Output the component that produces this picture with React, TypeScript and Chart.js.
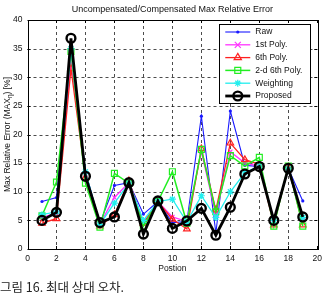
import { useEffect, useRef } from "react";
import { Chart, registerables } from "chart.js";

Chart.register(...registerables);

// Measurement positions along the sensor
const positions = [1, 2, 3, 4, 5, 6, 7, 8, 9, 10, 11, 12, 13, 14, 15, 16, 17, 18, 19];

// Max relative error [%] per compensation method
const rawErr = [8.3, 9.0, 35.5, 13.5, 4.5, 11.1, 11.6, 6.1, 8.3, 4.6, 4.8, 23.2, 2.8, 24.1, 14.6, 14.4, 5.0, 14.1, 8.4];
const poly1Err = [5.5, 6.3, 33.0, 13.0, 4.3, 9.0, 11.6, 4.5, 8.3, 5.6, 4.8, 17.0, 6.0, 17.0, 15.0, 14.5, 5.0, 14.0, 5.0];
const poly6Err = [4.5, 5.3, 31.5, 12.5, 4.0, 6.0, 11.9, 4.5, 8.3, 5.2, 3.5, 17.5, 6.8, 18.5, 15.6, 14.8, 4.2, 14.3, 4.2];
const poly2d6Err = [5.8, 11.7, 34.5, 11.5, 3.8, 13.2, 11.5, 4.0, 8.3, 13.5, 4.5, 17.4, 6.5, 16.3, 14.5, 16.0, 4.0, 14.5, 4.0];
const weightingErr = [6.0, 6.5, 35.0, 13.5, 4.3, 8.0, 11.5, 5.0, 8.3, 8.7, 4.7, 9.3, 5.5, 10.0, 13.3, 14.5, 5.0, 14.0, 5.5];
const proposedErr = [5.0, 6.4, 36.8, 12.7, 4.6, 5.6, 11.6, 2.6, 8.4, 3.6, 4.9, 7.1, 2.4, 7.3, 13.1, 14.4, 5.0, 14.1, 5.6];

const legendNames = ["Raw", "1st Poly.", "6th Poly.", "2-d 6th Poly.", "Weighting", "Proposed"];
const xTicks = [0, 2, 4, 6, 8, 10, 12, 14, 16, 18, 20];
const yTicks = [0, 5, 10, 15, 20, 25, 30, 35, 40];

const chartTitle = "Uncompensated/Compensated Max Relative Error";
const xTitle = "Postion";
const caption = "그림 16. 최대 상대 오차.";

const FONT = "'Liberation Sans', Arial, sans-serif";

type MarkerKind = "dot" | "x" | "tri" | "sq" | "star" | "ring";

interface SeriesStyle {
  color: string;
  marker: MarkerKind;
  lineWidth: number;
}

const styles: SeriesStyle[] = [
  { color: "#1a1aff", marker: "dot", lineWidth: 1.1 },
  { color: "#ff33ff", marker: "x", lineWidth: 1.3 },
  { color: "#ff2020", marker: "tri", lineWidth: 1.3 },
  { color: "#22ee22", marker: "sq", lineWidth: 1.5 },
  { color: "#22eeee", marker: "star", lineWidth: 1.3 },
  { color: "#000000", marker: "ring", lineWidth: 2.8 },
];

function pointOpts(s: SeriesStyle) {
  switch (s.marker) {
    case "dot":
      return { pointStyle: "circle", pointRadius: 1.6, pointBackgroundColor: s.color, pointBorderWidth: 0 };
    case "x":
      return { pointStyle: "crossRot", pointRadius: 3, pointBorderWidth: 1.2, pointBackgroundColor: s.color };
    case "tri":
      return { pointStyle: "triangle", pointRadius: 3.8, pointBorderWidth: 1.2, pointBackgroundColor: "rgba(0,0,0,0)" };
    case "sq":
      return { pointStyle: "rect", pointRadius: 4.2, pointBorderWidth: 1.2, pointBackgroundColor: "rgba(0,0,0,0)" };
    case "star":
      return { pointStyle: "star", pointRadius: 3.5, pointBorderWidth: 1.2, pointBackgroundColor: s.color };
    default:
      return { pointStyle: "circle", pointRadius: 4.4, pointBorderWidth: 2.4, pointBackgroundColor: "rgba(0,0,0,0)" };
  }
}

function drawMarker(ctx: CanvasRenderingContext2D, s: SeriesStyle, x: number, y: number) {
  ctx.save();
  ctx.strokeStyle = s.color;
  ctx.fillStyle = s.color;
  ctx.lineWidth = 1.2;
  ctx.beginPath();
  switch (s.marker) {
    case "dot":
      ctx.arc(x, y, 1.6, 0, Math.PI * 2);
      ctx.fill();
      break;
    case "x": {
      const r = 3;
      ctx.moveTo(x - r, y - r);
      ctx.lineTo(x + r, y + r);
      ctx.moveTo(x - r, y + r);
      ctx.lineTo(x + r, y - r);
      ctx.stroke();
      break;
    }
    case "tri": {
      const r = 4.2;
      ctx.moveTo(x, y - r);
      ctx.lineTo(x + r * 0.866, y + r * 0.5);
      ctx.lineTo(x - r * 0.866, y + r * 0.5);
      ctx.closePath();
      ctx.stroke();
      break;
    }
    case "sq":
      ctx.rect(x - 3, y - 3, 6, 6);
      ctx.stroke();
      break;
    case "star": {
      const r = 3.5;
      ctx.moveTo(x - r, y);
      ctx.lineTo(x + r, y);
      ctx.moveTo(x, y - r);
      ctx.lineTo(x, y + r);
      ctx.moveTo(x - r * 0.7, y - r * 0.7);
      ctx.lineTo(x + r * 0.7, y + r * 0.7);
      ctx.moveTo(x - r * 0.7, y + r * 0.7);
      ctx.lineTo(x + r * 0.7, y - r * 0.7);
      ctx.stroke();
      break;
    }
    default:
      ctx.lineWidth = 2.4;
      ctx.arc(x, y, 4.4, 0, Math.PI * 2);
      ctx.stroke();
  }
  ctx.restore();
}

const decorations = {
  id: "matlabFrame",
  beforeDatasetsDraw(chart: Chart) {
    const { ctx, chartArea: a } = chart;
    const xs = chart.scales.x;
    const ys = chart.scales.y;
    ctx.save();
    ctx.strokeStyle = "rgba(0,0,0,0.7)";
    ctx.lineWidth = 1;
    ctx.setLineDash([3, 3]);
    for (const t of xTicks.slice(1, -1)) {
      const px = Math.round(xs.getPixelForValue(t)) + 0.5;
      ctx.beginPath();
      ctx.moveTo(px, a.top);
      ctx.lineTo(px, a.bottom);
      ctx.stroke();
    }
    for (const t of yTicks.slice(1, -1)) {
      const py = Math.round(ys.getPixelForValue(t)) + 0.5;
      ctx.beginPath();
      ctx.moveTo(a.left, py);
      ctx.lineTo(a.right, py);
      ctx.stroke();
    }
    ctx.setLineDash([]);
    ctx.strokeStyle = "#000";
    // inward tick marks on all four sides
    for (const t of xTicks) {
      const px = Math.round(xs.getPixelForValue(t)) + 0.5;
      ctx.beginPath();
      ctx.moveTo(px, a.bottom);
      ctx.lineTo(px, a.bottom - 3);
      ctx.moveTo(px, a.top);
      ctx.lineTo(px, a.top + 3);
      ctx.stroke();
    }
    for (const t of yTicks) {
      const py = Math.round(ys.getPixelForValue(t)) + 0.5;
      ctx.beginPath();
      ctx.moveTo(a.left, py);
      ctx.lineTo(a.left + 3, py);
      ctx.moveTo(a.right, py);
      ctx.lineTo(a.right - 3, py);
      ctx.stroke();
    }
    ctx.restore();
  },
  afterDraw(chart: Chart) {
    const { ctx, chartArea: a } = chart;
    ctx.save();
    // axes box
    ctx.strokeStyle = "#000";
    ctx.lineWidth = 1;
    ctx.strokeRect(Math.round(a.left) + 0.5, Math.round(a.top) + 0.5, Math.round(a.right - a.left), Math.round(a.bottom - a.top));

    const cx = (a.left + a.right) / 2;
    ctx.fillStyle = "#111";
    ctx.textAlign = "center";
    ctx.textBaseline = "middle";
    ctx.font = `9px ${FONT}`;
    ctx.fillText(chartTitle, cx, 10);
    ctx.font = `8.5px ${FONT}`;
    ctx.fillText(xTitle, cx, 269);

    // y axis title with subscript eta
    const cy = (a.top + a.bottom) / 2;
    ctx.save();
    ctx.translate(8, cy);
    ctx.rotate(-Math.PI / 2);
    ctx.textAlign = "left";
    const partA = "Max Relative Error (MAX";
    const sub = "η";
    const partB = ") [%]";
    ctx.font = `8.5px ${FONT}`;
    const wA = ctx.measureText(partA).width;
    const wB = ctx.measureText(partB).width;
    ctx.font = `6.5px ${FONT}`;
    const wS = ctx.measureText(sub).width;
    let x0 = -(wA + wS + wB) / 2;
    ctx.font = `8.5px ${FONT}`;
    ctx.fillText(partA, x0, 0);
    x0 += wA;
    ctx.font = `6.5px ${FONT}`;
    ctx.fillText(sub, x0, 2);
    x0 += wS;
    ctx.font = `8.5px ${FONT}`;
    ctx.fillText(partB, x0, 0);
    ctx.restore();

    // legend box
    const lx = a.right - 98;
    const ly = a.top + 4;
    const lw = 91;
    const lh = 79;
    ctx.fillStyle = "#fff";
    ctx.fillRect(lx, ly, lw, lh);
    ctx.strokeStyle = "#000";
    ctx.lineWidth = 1;
    ctx.strokeRect(Math.round(lx) + 0.5, Math.round(ly) + 0.5, lw, lh);
    ctx.font = `8.5px ${FONT}`;
    ctx.textAlign = "left";
    ctx.textBaseline = "middle";
    legendNames.forEach((name, i) => {
      const s = styles[i];
      const y = ly + 8 + i * 12.8;
      ctx.strokeStyle = s.color;
      ctx.lineWidth = s.lineWidth;
      ctx.beginPath();
      ctx.moveTo(lx + 6, y);
      ctx.lineTo(lx + 31, y);
      ctx.stroke();
      drawMarker(ctx, s, lx + 18.5, y);
      ctx.fillStyle = "#111";
      ctx.fillText(name, lx + 36, y);
    });

    // figure caption
    ctx.fillStyle = "#222";
    ctx.font = `12.5px 'Noto Sans CJK KR', sans-serif`;
    ctx.textBaseline = "alphabetic";
    ctx.fillText(caption, 0, 292);
    ctx.restore();
  },
};

export default function App() {
  const canvasRef = useRef<HTMLCanvasElement | null>(null);

  useEffect(() => {
    const canvas = canvasRef.current;
    if (!canvas) return;
    const series = [rawErr, poly1Err, poly6Err, poly2d6Err, weightingErr, proposedErr];
    const chart = new Chart(canvas, {
      type: "line",
      data: {
        datasets: series.map((vals, i) => ({
          label: legendNames[i],
          data: positions.map((p, k) => ({ x: p, y: vals[k] })),
          borderColor: styles[i].color,
          borderWidth: styles[i].lineWidth,
          pointBorderColor: styles[i].color,
          tension: 0,
          order: series.length - i,
          ...pointOpts(styles[i]),
        })) as any,
      },
      options: {
        animation: false,
        responsive: false,
        devicePixelRatio: 1,
        layout: { padding: { top: 20, right: 5, left: 0, bottom: 0 } },
        plugins: {
          legend: { display: false },
          title: { display: false },
          tooltip: { enabled: false },
        },
        scales: {
          x: {
            type: "linear",
            min: 0,
            max: 20,
            grid: { display: false, drawTicks: false },
            border: { display: false },
            afterFit: (s: any) => {
              s.height = 49;
            },
            afterBuildTicks: (s: any) => {
              s.ticks = xTicks.map((v) => ({ value: v }));
            },
            ticks: {
              padding: 5,
              color: "#111",
              font: { family: FONT, size: 8.5 },
              maxRotation: 0,
              autoSkip: false,
            },
          },
          y: {
            type: "linear",
            min: 0,
            max: 40,
            grid: { display: false, drawTicks: false },
            border: { display: false },
            afterFit: (s: any) => {
              s.width = 27.5;
            },
            afterBuildTicks: (s: any) => {
              s.ticks = yTicks.map((v) => ({ value: v }));
            },
            ticks: {
              padding: 5,
              color: "#111",
              font: { family: FONT, size: 8.5 },
              autoSkip: false,
            },
          },
        },
      },
      plugins: [decorations],
    });
    return () => chart.destroy();
  }, []);

  return (
    <div style={{ position: "fixed", left: 0, top: 0, width: 327, height: 298, background: "#fff" }}>
      <canvas ref={canvasRef} width={327} height={298} style={{ display: "block", width: 327, height: 298 }} />
    </div>
  );
}
